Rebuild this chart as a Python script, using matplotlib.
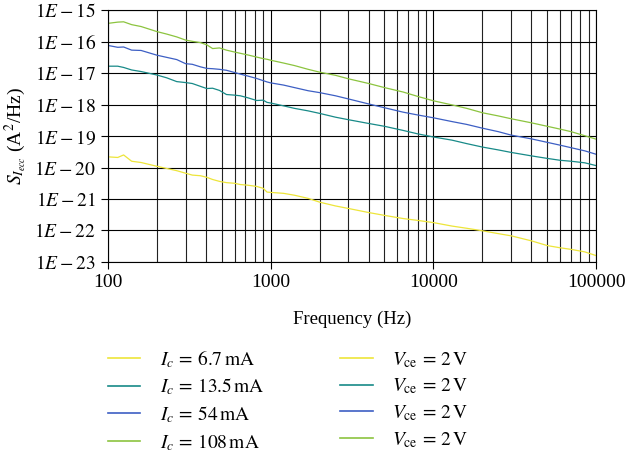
import matplotlib
matplotlib.use("Agg")
import matplotlib.pyplot as plt
from matplotlib.lines import Line2D
from matplotlib.ticker import FixedLocator, LogLocator, NullFormatter
import numpy as np

plt.rcParams["font.family"] = ["Liberation Serif", "DejaVu Serif"]
plt.rcParams["mathtext.fontset"] = "stix"

# frequency grid (Hz)
freq = [100, 115, 125, 140, 160, 200, 230, 265, 300, 330, 370, 405, 440, 485, 535,
        600, 650, 720, 820, 900, 950, 1000, 1200, 1400, 1700, 2000, 2500, 3000, 4000,
        5000, 6500, 8000, 10000, 13000, 16000, 20000, 25000, 30000, 40000, 50000,
        60000, 70000, 85000, 100000]

# log10 of noise spectral density (A^2/Hz)
log_s_6p7 = [-19.66, -19.68, -19.60, -19.80, -19.84, -19.96, -20.03, -20.10, -20.18, -20.24,
             -20.26, -20.31, -20.38, -20.44, -20.48, -20.50, -20.54, -20.56, -20.60, -20.66,
             -20.78, -20.79, -20.82, -20.88, -20.98, -21.10, -21.22, -21.30, -21.43, -21.52,
             -21.62, -21.68, -21.75, -21.86, -21.93, -22.01, -22.10, -22.17, -22.33, -22.48,
             -22.55, -22.60, -22.68, -22.80]
log_s_13p5 = [-16.78, -16.78, -16.82, -16.90, -16.95, -17.06, -17.15, -17.27, -17.30, -17.33,
              -17.42, -17.49, -17.48, -17.55, -17.68, -17.70, -17.72, -17.78, -17.87, -17.86,
              -17.93, -17.95, -18.04, -18.12, -18.20, -18.28, -18.40, -18.48, -18.60, -18.69,
              -18.82, -18.93, -19.03, -19.13, -19.24, -19.35, -19.44, -19.52, -19.63, -19.71,
              -19.77, -19.80, -19.85, -19.94]
log_s_54 = [-16.12, -16.18, -16.17, -16.27, -16.28, -16.43, -16.50, -16.57, -16.70, -16.72,
            -16.80, -16.85, -16.86, -16.88, -16.91, -16.98, -17.03, -17.09, -17.17, -17.24,
            -17.28, -17.31, -17.38, -17.46, -17.56, -17.62, -17.72, -17.82, -17.98, -18.10,
            -18.24, -18.33, -18.42, -18.54, -18.63, -18.75, -18.86, -18.97, -19.09, -19.20,
            -19.29, -19.37, -19.47, -19.58]
log_s_108 = [-15.42, -15.38, -15.37, -15.46, -15.52, -15.68, -15.76, -15.85, -15.95, -15.99,
             -16.03, -16.10, -16.22, -16.20, -16.27, -16.33, -16.37, -16.42, -16.49, -16.54,
             -16.56, -16.59, -16.68, -16.76, -16.88, -16.97, -17.07, -17.18, -17.33, -17.46,
             -17.60, -17.74, -17.88, -18.01, -18.12, -18.26, -18.36, -18.45, -18.58, -18.69,
             -18.78, -18.86, -18.99, -19.10]

ic_labels = [r"$I_c\,=\,6.7\,\mathrm{mA}$", r"$I_c\,=\,13.5\,\mathrm{mA}$",
             r"$I_c\,=\,54\,\mathrm{mA}$", r"$I_c\,=\,108\,\mathrm{mA}$"]
vce_labels = [r"$V_{\mathrm{ce}}\,=\,2\,\mathrm{V}$"] * 4
colors = ["#EDE53A", "#188A88", "#3D5FC4", "#8CC43F"]
series = [log_s_6p7, log_s_13p5, log_s_54, log_s_108]
y_exponents = list(range(-23, -14))

fig = plt.figure(figsize=(6.27, 4.62), dpi=100)
ax = fig.add_axes([0.172, 0.433, 0.779, 0.545])

for vals, c in zip(series, colors):
    ax.plot(freq, 10.0 ** np.array(vals), color=c, lw=0.9)

ax.set_xscale("log")
ax.set_yscale("log")
ax.set_xlim(100, 100000)
ax.set_ylim(1e-23, 1e-15)

ax.xaxis.set_major_locator(FixedLocator([100, 1000, 10000, 100000]))
ax.set_xticklabels(["100", "1000", "10000", "100000"])
ax.xaxis.set_minor_locator(LogLocator(base=10, subs=np.arange(2, 10)))
ax.xaxis.set_minor_formatter(NullFormatter())
ax.yaxis.set_major_locator(FixedLocator([10.0 ** e for e in y_exponents]))
ax.set_yticklabels([rf"$1E-{-e}$" for e in y_exponents])
ax.yaxis.set_minor_locator(FixedLocator([]))

ax.grid(True, which="major", color="black", lw=0.8)
ax.grid(True, which="minor", axis="x", color="#222222", lw=0.8)
ax.tick_params(axis="both", which="major", labelsize=14, length=5, width=0.8, direction="out")
ax.tick_params(axis="x", which="minor", length=0)
for sp in ax.spines.values():
    sp.set_linewidth(0.8)
    sp.set_color("black")

ax.set_xlabel("Frequency (Hz)", fontsize=13.5, labelpad=14)
ax.set_ylabel(r"$S_{I_{ecc}}$ (A$^2$/Hz)", fontsize=14, labelpad=4)

handles = [Line2D([], [], color=c, lw=1.2) for c in colors]
fig.legend(handles + handles, ic_labels + vce_labels, ncol=2, frameon=False,
           loc="upper left", bbox_to_anchor=(0.145, 0.285), fontsize=14,
           handlelength=1.65, handletextpad=1.0, columnspacing=3.9, labelspacing=0.36)

fig.savefig("out.png", dpi=100)
